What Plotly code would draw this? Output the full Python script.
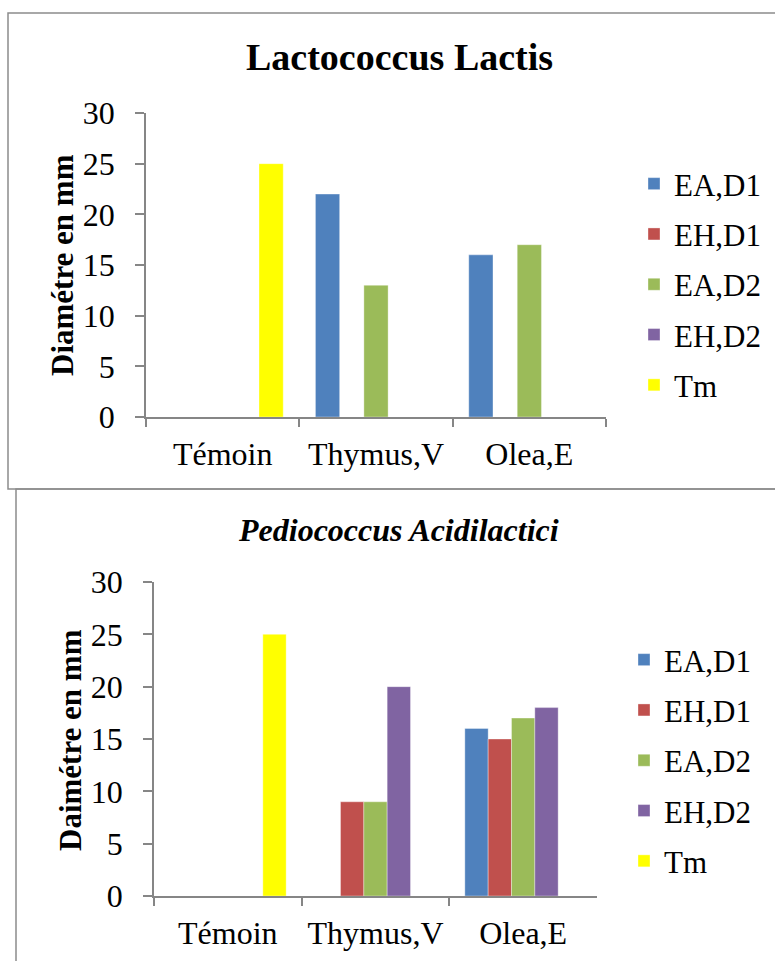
import plotly.graph_objects as go

# Categories and series
categories = ["Témoin", "Thymus,V", "Olea,E"]
series_names = ["EA,D1", "EH,D1", "EA,D2", "EH,D2", "Tm"]
series_colors = ["#4F81BD", "#C0504D", "#9BBB59", "#8064A2", "#FFFF00"]

# Lactococcus Lactis: inhibition diameters (mm)
lacto_ea_d1 = [None, 22, 16]
lacto_eh_d1 = [None, None, None]
lacto_ea_d2 = [None, 13, 17]
lacto_eh_d2 = [None, None, None]
lacto_tm = [25, None, None]

# Pediococcus Acidilactici: inhibition diameters (mm)
pedio_ea_d1 = [None, None, 16]
pedio_eh_d1 = [None, 9, 15]
pedio_ea_d2 = [None, 9, 17]
pedio_eh_d2 = [None, 20, 18]
pedio_tm = [25, None, None]

y_ticks = [0, 5, 10, 15, 20, 25, 30]

W, H = 775, 961
FONT = "Liberation Serif"
AXIS_GRAY = "#868686"


def px_x(v):
    return v / W


def px_y(v):
    return 1 - v / H


fig = go.Figure()

lacto = [lacto_ea_d1, lacto_eh_d1, lacto_ea_d2, lacto_eh_d2, lacto_tm]
pedio = [pedio_ea_d1, pedio_eh_d1, pedio_ea_d2, pedio_eh_d2, pedio_tm]

bar_edge = dict(color="rgba(255,255,255,0.35)", width=1)

for name, color, vals in zip(series_names, series_colors, lacto):
    fig.add_trace(go.Bar(
        x=categories, y=vals, name=name, marker_color=color,
        marker_line=bar_edge, xaxis="x", yaxis="y",
        legend="legend", legendgroup="top_" + name,
    ))

for name, color, vals in zip(series_names, series_colors, pedio):
    fig.add_trace(go.Bar(
        x=categories, y=vals, name=name, marker_color=color,
        marker_line=bar_edge, xaxis="x2", yaxis="y2",
        legend="legend2", legendgroup="bot_" + name,
    ))

tick_font = dict(family=FONT, size=32, color="black")

common_x = dict(
    type="category", showline=True, linecolor=AXIS_GRAY, linewidth=1.5,
    ticks="outside", tickson="boundaries", ticklen=8, tickcolor=AXIS_GRAY,
    tickwidth=1.5, tickfont=tick_font, showgrid=False, zeroline=False,
    fixedrange=True, ticklabelstandoff=8, automargin=False,
)
common_y = dict(
    range=[0, 30], tickvals=y_ticks, showline=True, linecolor=AXIS_GRAY,
    linewidth=1.5, ticks="outside", ticklen=9, tickcolor=AXIS_GRAY,
    tickwidth=1.5, tickfont=tick_font, showgrid=False, zeroline=False,
    fixedrange=True, ticklabelstandoff=14, automargin=False,
)

legend_common = dict(
    font=dict(family=FONT, size=31, color="black"),
    bgcolor="rgba(0,0,0,0)", borderwidth=0, tracegroupgap=7,
    traceorder="grouped", xanchor="left", yanchor="top",
)

fig.update_layout(
    width=W, height=H, autosize=False,
    margin=dict(l=0, r=0, t=0, b=0, pad=0, autoexpand=False),
    paper_bgcolor="white", plot_bgcolor="white",
    barmode="group", bargap=0.21, bargroupgap=0,
    xaxis=dict(domain=[px_x(146), px_x(606)], anchor="y", **common_x),
    yaxis=dict(domain=[px_y(417), px_y(113)], anchor="x", **common_y),
    xaxis2=dict(domain=[px_x(154), px_x(597)], anchor="y2", **common_x),
    yaxis2=dict(domain=[px_y(896), px_y(582)], anchor="x2", **common_y),
    legend=dict(x=px_x(634), y=px_y(157), **legend_common),
    legend2=dict(x=px_x(624), y=px_y(633), **legend_common),
    shapes=[
        dict(type="rect", xref="paper", yref="paper",
             x0=px_x(8), x1=px_x(790), y0=px_y(489), y1=px_y(13),
             line=dict(color="#8C8C8C", width=1.5), fillcolor="rgba(0,0,0,0)"),
        dict(type="rect", xref="paper", yref="paper",
             x0=px_x(16), x1=px_x(790), y0=px_y(975), y1=px_y(489),
             line=dict(color="#8C8C8C", width=1.5), fillcolor="rgba(0,0,0,0)"),
    ],
    annotations=[
        dict(text="Lactococcus Lactis", xref="paper", yref="paper",
             x=px_x(399), y=px_y(57), xanchor="center", yanchor="middle",
             showarrow=False,
             font=dict(family=FONT, size=38, color="black", weight="bold")),
        dict(text="Pediococcus Acidilactici", xref="paper", yref="paper",
             x=px_x(398), y=px_y(530), xanchor="center", yanchor="middle",
             showarrow=False,
             font=dict(family=FONT, size=32, color="black", weight="bold",
                       style="italic")),
        dict(text="Diamétre en mm", xref="paper", yref="paper",
             x=px_x(62), y=px_y(265), xanchor="center", yanchor="middle",
             textangle=-90, showarrow=False,
             font=dict(family=FONT, size=31, color="black", weight="bold")),
        dict(text="Daimétre en mm", xref="paper", yref="paper",
             x=px_x(70), y=px_y(740), xanchor="center", yanchor="middle",
             textangle=-90, showarrow=False,
             font=dict(family=FONT, size=31, color="black", weight="bold")),
    ],
)

fig.write_html("out.html")
